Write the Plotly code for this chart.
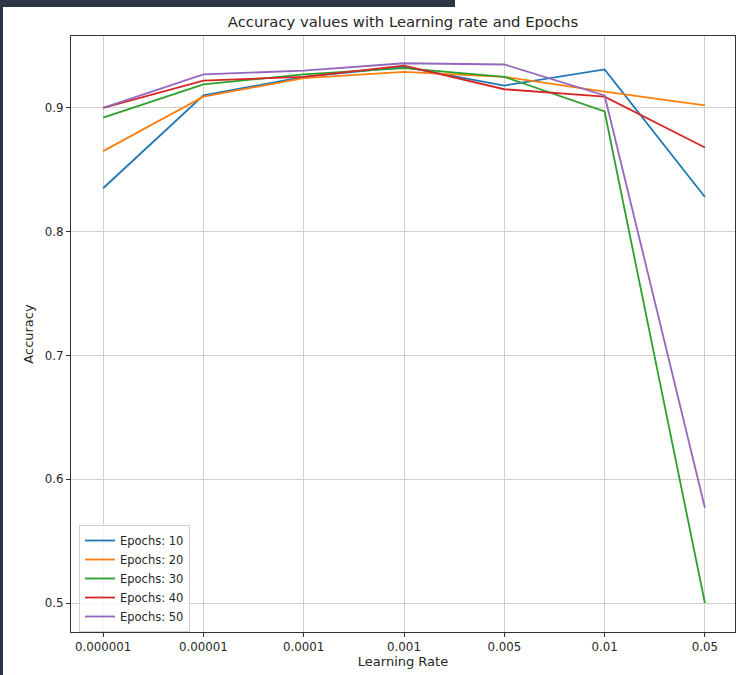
import plotly.graph_objects as go

learning_rates = ["0.000001", "0.00001", "0.0001", "0.001", "0.005", "0.01", "0.05"]
epochs_10 = [0.835, 0.910, 0.925, 0.933, 0.918, 0.931, 0.828]
epochs_20 = [0.865, 0.909, 0.924, 0.929, 0.925, 0.913, 0.902]
epochs_30 = [0.892, 0.919, 0.927, 0.932, 0.925, 0.897, 0.500]
epochs_40 = [0.900, 0.922, 0.925, 0.934, 0.915, 0.909, 0.868]
epochs_50 = [0.900, 0.927, 0.930, 0.936, 0.935, 0.910, 0.577]
series_names = ["Epochs: 10", "Epochs: 20", "Epochs: 30", "Epochs: 40", "Epochs: 50"]
colors = ["#1f77b4", "#ff7f0e", "#2ca02c", "#d62728", "#9467bd"]

W, H = 739, 675
L, R, T, B = 71, 4, 36, 43

fig = go.Figure()
for name, vals, c in zip(series_names, [epochs_10, epochs_20, epochs_30, epochs_40, epochs_50], colors):
    fig.add_trace(go.Scatter(x=list(range(len(learning_rates))), y=vals, mode="lines", name=name,
                             line=dict(color=c, width=1.8)))

pw = W - L - R
ph = H - T - B
def px(x):
    return (x - L) / pw
def py(y):
    return (H - B - y) / ph

shapes = [
    dict(type="rect", xref="paper", yref="paper", x0=px(0), x1=px(455), y0=py(7), y1=py(0),
         fillcolor="#2d3748", line=dict(width=0), layer="above"),
    dict(type="rect", xref="paper", yref="paper", x0=px(0), x1=px(3), y0=py(675), y1=py(0),
         fillcolor="#2d3748", line=dict(width=0), layer="above"),
]

fig.update_layout(
    width=W, height=H,
    margin=dict(l=L, r=R, t=T, b=B, autoexpand=False),
    paper_bgcolor="white", plot_bgcolor="white",
    font=dict(family="DejaVu Sans", color="#262626", size=11),
    title=dict(text="Accuracy values with Learning rate and Epochs", x=(L + (W - R)) / 2 / W,
               xanchor="center", y=1 - 22 / H, yanchor="middle", font=dict(size=14.8, color="#262626")),
    xaxis=dict(tickmode="array", tickvals=list(range(len(learning_rates))), ticktext=learning_rates,
               range=[-0.32, 6.3], showgrid=True, gridcolor="#cfcfcf", gridwidth=1,
               showline=True, linecolor="#333333", linewidth=1, mirror=True,
               ticks="outside", ticklen=4, tickcolor="#333333", zeroline=False, automargin=False,
               tickfont=dict(size=11.8),
               title=dict(text="Learning Rate", font=dict(size=13), standoff=2)),
    yaxis=dict(range=[0.4766, 0.958], tickvals=[0.5, 0.6, 0.7, 0.8, 0.9],
               ticktext=["0.5", "0.6", "0.7", "0.8", "0.9"],
               showgrid=True, gridcolor="#cfcfcf", gridwidth=1,
               showline=True, linecolor="#333333", linewidth=1, mirror=True,
               ticks="outside", ticklen=4, tickcolor="#333333", zeroline=False, automargin=False,
               tickfont=dict(size=11.8),
               title=dict(text="Accuracy", font=dict(size=13), standoff=8)),
    legend=dict(x=px(79), y=py(525), xanchor="left", yanchor="top",
                bgcolor="rgba(255,255,255,0.8)", bordercolor="#d0d0d0", borderwidth=1,
                font=dict(size=11.5), tracegroupgap=0, itemwidth=30, entrywidth=125, entrywidthmode="pixels"),
    shapes=shapes,
    showlegend=True,
)

fig.write_html("out.html", post_script="document.body.style.margin='0px';",
               config={"displayModeBar": False})
